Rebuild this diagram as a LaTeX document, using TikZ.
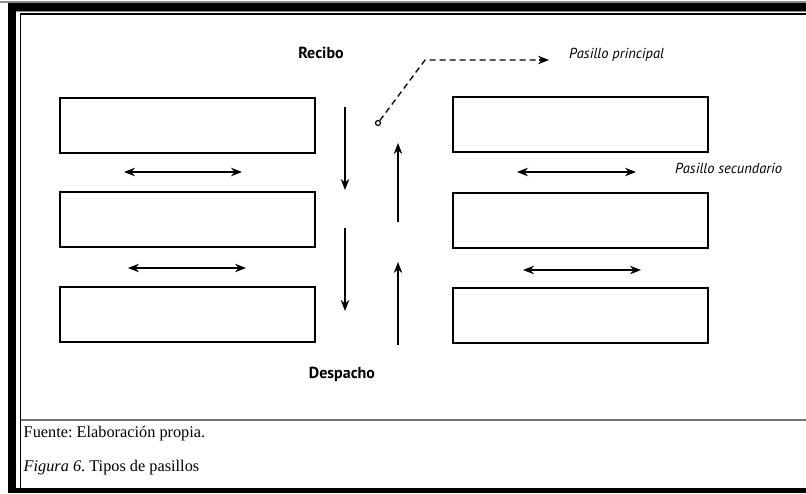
\documentclass[tikz,border=0pt]{standalone}
\usepackage{fontspec}
\setmainfont{PT Sans}
\newfontfamily\capfont{Liberation Serif}
\usetikzlibrary{arrows.meta}
\frenchspacing
\begin{document}
\begin{tikzpicture}[x=1pt,y=-1pt,
  shelf/.style={draw, line width=2pt, minimum width=255pt, minimum height=55pt, inner sep=0pt},
  flow/.style={line width=1.2pt, -{Stealth[length=11pt,width=8.5pt]}},
  both/.style={line width=1.2pt, {Stealth[length=11pt,width=8.5pt]}-{Stealth[length=11pt,width=8.5pt]}},
  lbl/.style={font=\bfseries\fontsize{16}{18}\selectfont, inner sep=0pt},
  ital/.style={font=\itshape\fontsize{14.5}{16}\selectfont, inner sep=0pt, anchor=west},
  captext/.style={font=\capfont\fontsize{16.3}{18}\selectfont, inner sep=0pt, anchor=west}]
\useasboundingbox (0,0) rectangle (806,493);
\fill[white] (0,0) rectangle (806,493);
% outer frame
\fill[black!45] (0,1) rectangle (806,3);
\fill[black] (8,3) rectangle (806,10.5);
\fill[black!45] (16,10.5) rectangle (806,11.5);
\fill[black] (8,3) rectangle (16,493);
\fill[black] (8,488) rectangle (806,493);
\draw[line width=1.5pt] (20.5,493) -- (20.5,14) -- (806,14);
\draw[line width=2pt, black!55] (20.5,419.5) -- (806,419.5);
% shelves
\node[shelf] (l1) at (187,125) {};
\node[shelf] (l2) at (187,219.5) {};
\node[shelf] (l3) at (187,314.5) {};
\node[shelf] (r1) at (580.5,124) {};
\node[shelf] (r2) at (580.5,220) {};
\node[shelf] (r3) at (580.5,315) {};
% horizontal aisles
\coordinate (h1a) at (124,172); \coordinate (h1b) at (242,172);
\coordinate (h2a) at (128,268); \coordinate (h2b) at (246,268);
\coordinate (h3a) at (517,172); \coordinate (h3b) at (636,172);
\coordinate (h4a) at (523,270); \coordinate (h4b) at (641,270);
\draw[both] (h1a) -- (h1b);
\draw[both] (h2a) -- (h2b);
\draw[both] (h3a) -- (h3b);
\draw[both] (h4a) -- (h4b);
% vertical flows
\coordinate (d1a) at (345,107); \coordinate (d1b) at (345,190);
\coordinate (d2a) at (345,228); \coordinate (d2b) at (345,311);
\coordinate (u1a) at (398,222); \coordinate (u1b) at (398,143);
\coordinate (u2a) at (398,345); \coordinate (u2b) at (398,262);
\draw[flow] (d1a) -- (d1b);
\draw[flow] (d2a) -- (d2b);
\draw[flow] (u1a) -- (u1b);
\draw[flow] (u2a) -- (u2b);
% main aisle pointer
\node[draw, circle, line width=1.2pt, minimum size=5pt, inner sep=0pt] (o) at (378,123) {};
\coordinate (k) at (425,60);
\coordinate (t) at (549,60);
\draw[line width=1.3pt, dash pattern=on 6pt off 4pt] (o) -- (k) -- ([xshift=-9pt]t);
\draw[line width=1.3pt, -{Stealth[length=11pt,width=8.5pt]}] ([xshift=-10pt]t) -- (t);
% labels
\node[lbl] (rec) at (321,53) {Recibo};
\node[lbl] (des) at (342,374) {Despacho};
\node[ital] (pp) at (569,55) {Pasillo principal};
\node[ital] (ps) at (675,168) {Pasillo secundario};
\node[captext] (fu) at (23.5,434) {Fuente: Elaboración propia.};
\node[captext] (fi) at (23.5,468) {\itshape Figura 6\upshape. Tipos de pasillos};
\end{tikzpicture}
\end{document}
